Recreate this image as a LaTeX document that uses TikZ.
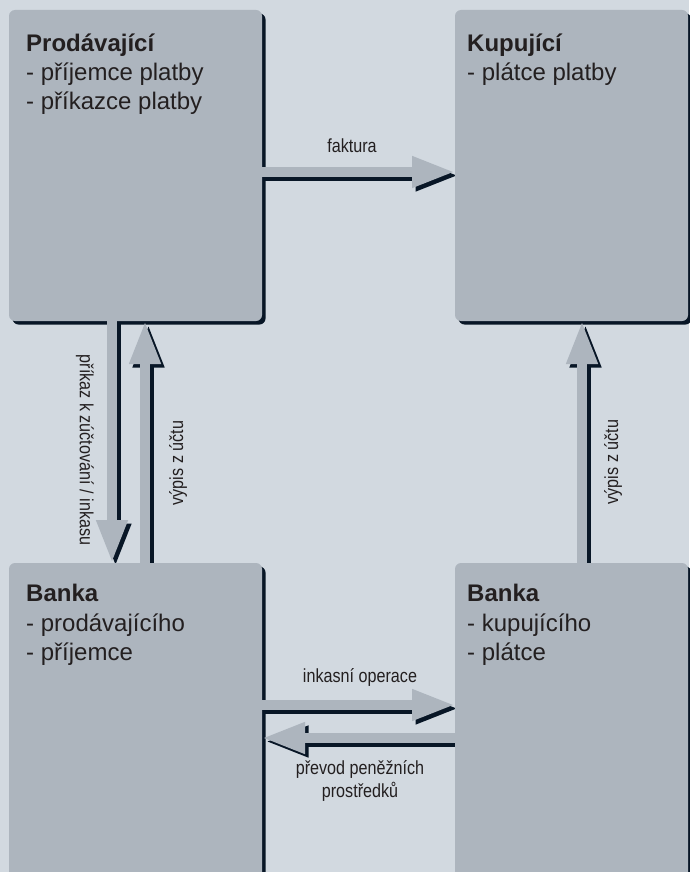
\documentclass[tikz,border=0pt]{standalone}
\usepackage{fontspec}
\setmainfont{Liberation Sans}
\newfontfamily\condf[FakeStretch=0.85]{Liberation Sans}
\usetikzlibrary{arrows.meta,calc}
\definecolor{bgc}{RGB}{210,217,224}
\definecolor{boxc}{RGB}{173,181,190}
\definecolor{shc}{RGB}{8,22,38}
\definecolor{txc}{RGB}{35,31,32}
\pgfdeclarelayer{back}
\pgfdeclarelayer{mid}
\pgfsetlayers{back,mid,main}
\begin{document}
\begin{tikzpicture}[x=1pt,y=-1pt,
  box/.style={fill=boxc, draw=none, rounded corners=6pt, inner sep=0pt, outer sep=0pt, anchor=north west},
  boxsh/.style={fill=shc, rounded corners=6pt},
  arr/.style={line width=10pt, draw=boxc, fill=boxc, -{Triangle[length=43pt,width=29pt]}},
  arrsh/.style={line width=10pt, draw=shc, fill=shc, -{Triangle[length=43pt,width=29pt]}},
  ttl/.style={font=\bfseries\fontsize{24}{29}\selectfont, text=txc, inner sep=0pt, anchor=base west},
  itm/.style={font=\fontsize{24}{29}\selectfont, text=txc, inner sep=0pt, anchor=base west},
  lab/.style={font=\condf\fontsize{19}{23}\selectfont, text=txc, inner sep=0pt}
]
\useasboundingbox (0,0) rectangle (689,872);

% boxes
\node[box, minimum width=253pt, minimum height=311pt] (tl) at (9,10) {};
\node[box, minimum width=233pt, minimum height=311pt] (tr) at (455,10) {};
\node[box, minimum width=253pt, minimum height=330pt] (bl) at (9,563) {};
\node[box, minimum width=233pt, minimum height=330pt] (br) at (455,563) {};

\begin{pgfonlayer}{back}
  \fill[bgc] (0,0) rectangle (689,872);
  \foreach \b in {tl,tr,bl,br}
    \fill[boxsh] ($(\b.north west)+(3.5,3.5)$) rectangle ($(\b.south east)+(3.5,3.5)$);
\end{pgfonlayer}

% connectors: coordinates anchored on the boxes
\coordinate (fa1) at ($(tl.north east)+(-20,162)$);
\coordinate (fa2) at ($(tr.north west)+(0,162)$);
\coordinate (pd1) at ($(tl.south west)+(103,-20)$);
\coordinate (pd2) at ($(bl.north west)+(103,0)$);
\coordinate (vl1) at ($(bl.north west)+(136,20)$);
\coordinate (vl2) at ($(tl.south west)+(136,0)$);
\coordinate (vr1) at ($(br.north west)+(127,20)$);
\coordinate (vr2) at ($(tr.south west)+(127,0)$);
\coordinate (io1) at ($(bl.north east)+(-20,142)$);
\coordinate (io2) at ($(br.north west)+(0,142)$);
\coordinate (pp1) at ($(br.north west)+(20,175)$);
\coordinate (pp2) at ($(bl.north east)+(0,175)$);

\begin{pgfonlayer}{mid}
  \foreach \a/\b in {fa1/fa2,pd1/pd2,vl1/vl2,vr1/vr2,io1/io2,pp1/pp2}{
    \draw[arrsh] ($(\a)+(3.5,3.5)$) -- ($(\b)+(3.5,3.5)$);
    \draw[arr] (\a) -- (\b);
  }
\end{pgfonlayer}

% box texts
\node[ttl] (tl1) at ($(tl.north west)+(17,42)$) {Prodávající};
\node[itm] (tl2) at ($(tl.north west)+(17,71)$) {- příjemce platby};
\node[itm] (tl3) at ($(tl.north west)+(17,100)$) {- příkazce platby};
\node[ttl] (tr1) at ($(tr.north west)+(12,42)$) {Kupující};
\node[itm] (tr2) at ($(tr.north west)+(12,71)$) {- plátce platby};
\node[ttl] (bl1) at ($(bl.north west)+(17,38)$) {Banka};
\node[itm] (bl2) at ($(bl.north west)+(17,68)$) {- prodávajícího};
\node[itm] (bl3) at ($(bl.north west)+(17,97)$) {- příjemce};
\node[ttl] (br1) at ($(br.north west)+(12,38)$) {Banka};
\node[itm] (br2) at ($(br.north west)+(12,68)$) {- kupujícího};
\node[itm] (br3) at ($(br.north west)+(12,97)$) {- plátce};

% connector labels
\node[lab] (lf) at (352,146) {faktura};
\node[lab] (li) at (360,677) {inkasní operace};
\node[lab, align=center] (lp) at (360,781) {převod peněžních\\prostředků};
\node[lab, rotate=-90] (lz) at (85,450) {příkaz k zúčtování / inkasu};
\node[lab, rotate=90] (lv1) at (178,463) {výpis z účtu};
\node[lab, rotate=90] (lv2) at (613,462) {výpis z účtu};
\end{tikzpicture}
\end{document}
